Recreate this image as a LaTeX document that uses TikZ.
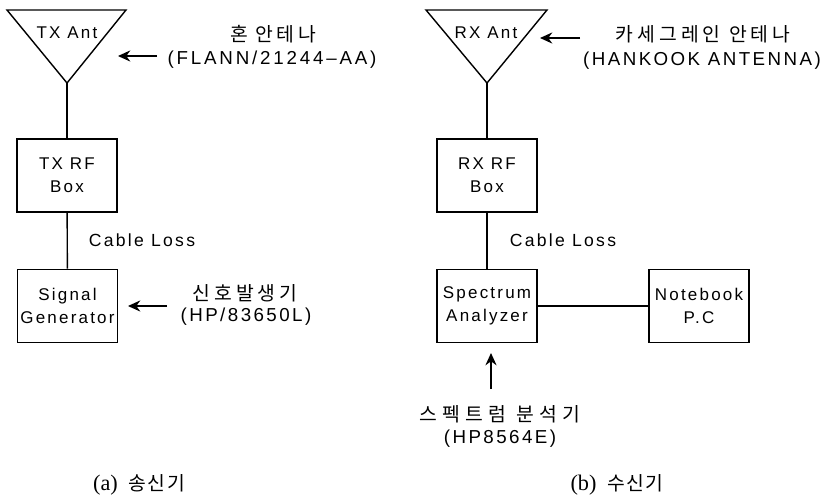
\documentclass[tikz,border=0pt]{standalone}
\usepackage{fontspec}
\setmainfont[LetterSpace=13]{Liberation Sans}
\newfontfamily\krfont{Noto Sans CJK KR}
\newfontfamily\capfont{Liberation Serif}
\usetikzlibrary{arrows.meta}
\tikzset{
  unit/.style={draw,line width=1.2pt,minimum width=3cm,minimum height=2.2cm,inner sep=0pt,align=center,font=\fontsize{14.5}{19.5}\selectfont},
  antlabel/.style={inner sep=0pt,font=\fontsize{14.5}{16}\selectfont},
  lossl/.style={inner sep=0pt,font=\fontsize{15}{16}\selectfont},
  infotext/.style={inner sep=0pt,font=\fontsize{16}{18}\selectfont},
  infokr/.style={inner sep=0pt,font=\krfont\addfontfeature{LetterSpace=#1}\fontsize{16.5}{18}\selectfont},
  captext/.style={inner sep=0pt,font=\fontsize{19}{20}\selectfont}
}
\begin{document}
\begin{tikzpicture}[x=0.03cm,y=-0.03cm,>={Stealth[length=10.5pt,width=9.5pt]},line width=1.2pt]
\useasboundingbox (0,0) rectangle (826,498);

% transmitter
\coordinate (txleft) at (7,10);
\coordinate (txright) at (126,10);
\coordinate (txtip) at (67,83);
\draw (txleft)--(txright)--(txtip)--cycle;
\node[antlabel] (txant) at (67,33) {TX Ant};
\node[unit] (txbox) at (67,175.5) {TX RF\\Box};
\node[unit] (siggen) at (67.5,306) {Signal\\Generator};
\draw (txtip)--(txbox);
\draw (txbox)--(siggen);
\node[lossl] (txloss) at (142,240) {Cable Loss};

\node[infokr=18] (horn) at (273,34) {혼 안테나};
\node[infotext] (flann) at (272,60) {\addfontfeature{LetterSpace=15}(FLANN/21244–AA)};
\coordinate (hornfrom) at (157,56);
\coordinate (hornto) at (118,56);
\draw[->] (hornfrom)--(hornto);

\node[infokr=21] (sigkr) at (245,293) {신호발생기};
\node[infotext] (hpsig) at (246,317) {(HP/83650L)};
\coordinate (sigfrom) at (167,306);
\coordinate (sigto) at (128,306);
\draw[->] (sigfrom)--(sigto);

\node[captext] (capa) at (139,485) {\capfont (a)\hspace{9pt}\krfont\addfontfeature{LetterSpace=8}\fontsize{16.5}{20}\selectfont 송신기};

% receiver
\coordinate (rxleft) at (426,10);
\coordinate (rxright) at (547,10);
\coordinate (rxtip) at (487,83);
\draw (rxleft)--(rxright)--(rxtip)--cycle;
\node[antlabel] (rxant) at (486,33) {RX Ant};
\node[unit] (rxbox) at (487,175.5) {RX RF\\Box};
\node[unit] (specan) at (487,306) {Spectrum\\Analyzer};
\node[unit] (laptop) at (699,306) {Notebook\\P.C};
\draw (rxtip)--(rxbox);
\draw (rxbox)--(specan);
\draw (specan)--(laptop);
\node[lossl] (rxloss) at (563,240) {Cable Loss};

\node[infokr=21] (cass) at (703,34) {카세그레인 안테나};
\node[infotext] (hankook) at (702,61) {(HANKOOK ANTENNA)};
\coordinate (cassfrom) at (580,38);
\coordinate (cassto) at (540,38);
\draw[->] (cassfrom)--(cassto);

\node[infokr=28] (speckr) at (500,414) {스펙트럼 분석기};
\node[infotext] (hpspec) at (500,439) {(HP8564E)};
\coordinate (specfrom) at (491,389);
\coordinate (specto) at (491,353);
\draw[->] (specfrom)--(specto);

\node[captext] (capb) at (617,485) {\capfont (b)\hspace{9pt}\krfont\addfontfeature{LetterSpace=8}\fontsize{16.5}{20}\selectfont 수신기};
\end{tikzpicture}
\end{document}
